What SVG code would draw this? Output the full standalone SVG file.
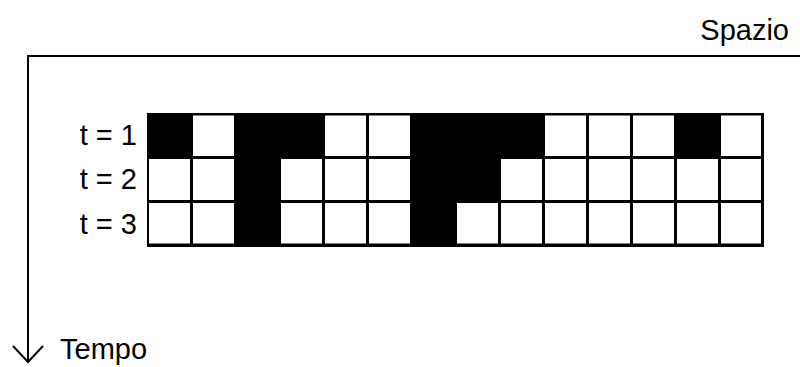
<svg xmlns="http://www.w3.org/2000/svg" width="800" height="367" viewBox="0 0 800 367">
<style>
.lbl{font-family:"Liberation Sans",Arial,sans-serif;font-size:29px;fill:#000}
.ax{stroke:#000;stroke-width:2;fill:none}
.w{fill:#fff}
</style>
<rect width="800" height="367" fill="#fff"/>
<g id="axes">
<line class="ax" x1="28" y1="56" x2="800" y2="56"/>
<line class="ax" x1="28" y1="55" x2="28" y2="362"/>
<polyline class="ax" stroke-width="1.5" points="13,346 28,362 43,346"/>
</g>
<g id="labels">
<text class="lbl" x="789" y="40" text-anchor="end">Spazio</text>
<text class="lbl" x="60" y="359">Tempo</text>
<text class="lbl" x="137" y="145" text-anchor="end">t = 1</text>
<text class="lbl" x="137" y="189" text-anchor="end">t = 2</text>
<text class="lbl" x="137" y="234" text-anchor="end">t = 3</text>
</g>
<g id="grid">
<rect x="147" y="113" width="617" height="134" fill="#000"/>
<!-- row 1: black at cols 0,2,3,6,7,8,12 -->
<rect class="w" x="193" y="115.5" width="41" height="40.5"/>
<rect class="w" x="325" y="115.5" width="41" height="40.5"/>
<rect class="w" x="369" y="115.5" width="41" height="40.5"/>
<rect class="w" x="545" y="115.5" width="41" height="40.5"/>
<rect class="w" x="589" y="115.5" width="41" height="40.5"/>
<rect class="w" x="633" y="115.5" width="41" height="40.5"/>
<rect class="w" x="721" y="115.5" width="40" height="40.5"/>
<!-- row 2: black at cols 2,6,7 -->
<rect class="w" x="149" y="159" width="41" height="41"/>
<rect class="w" x="193" y="159" width="41" height="41"/>
<rect class="w" x="281" y="159" width="41" height="41"/>
<rect class="w" x="325" y="159" width="41" height="41"/>
<rect class="w" x="369" y="159" width="41" height="41"/>
<rect class="w" x="501" y="159" width="41" height="41"/>
<rect class="w" x="545" y="159" width="41" height="41"/>
<rect class="w" x="589" y="159" width="41" height="41"/>
<rect class="w" x="633" y="159" width="41" height="41"/>
<rect class="w" x="677" y="159" width="41" height="41"/>
<rect class="w" x="721" y="159" width="40" height="41"/>
<!-- row 3: black at cols 2,6 -->
<rect class="w" x="149" y="203" width="41" height="40.5"/>
<rect class="w" x="193" y="203" width="41" height="40.5"/>
<rect class="w" x="281" y="203" width="41" height="40.5"/>
<rect class="w" x="325" y="203" width="41" height="40.5"/>
<rect class="w" x="369" y="203" width="41" height="40.5"/>
<rect class="w" x="457" y="203" width="41" height="40.5"/>
<rect class="w" x="501" y="203" width="41" height="40.5"/>
<rect class="w" x="545" y="203" width="41" height="40.5"/>
<rect class="w" x="589" y="203" width="41" height="40.5"/>
<rect class="w" x="633" y="203" width="41" height="40.5"/>
<rect class="w" x="677" y="203" width="41" height="40.5"/>
<rect class="w" x="721" y="203" width="40" height="40.5"/>
</g>
</svg>
